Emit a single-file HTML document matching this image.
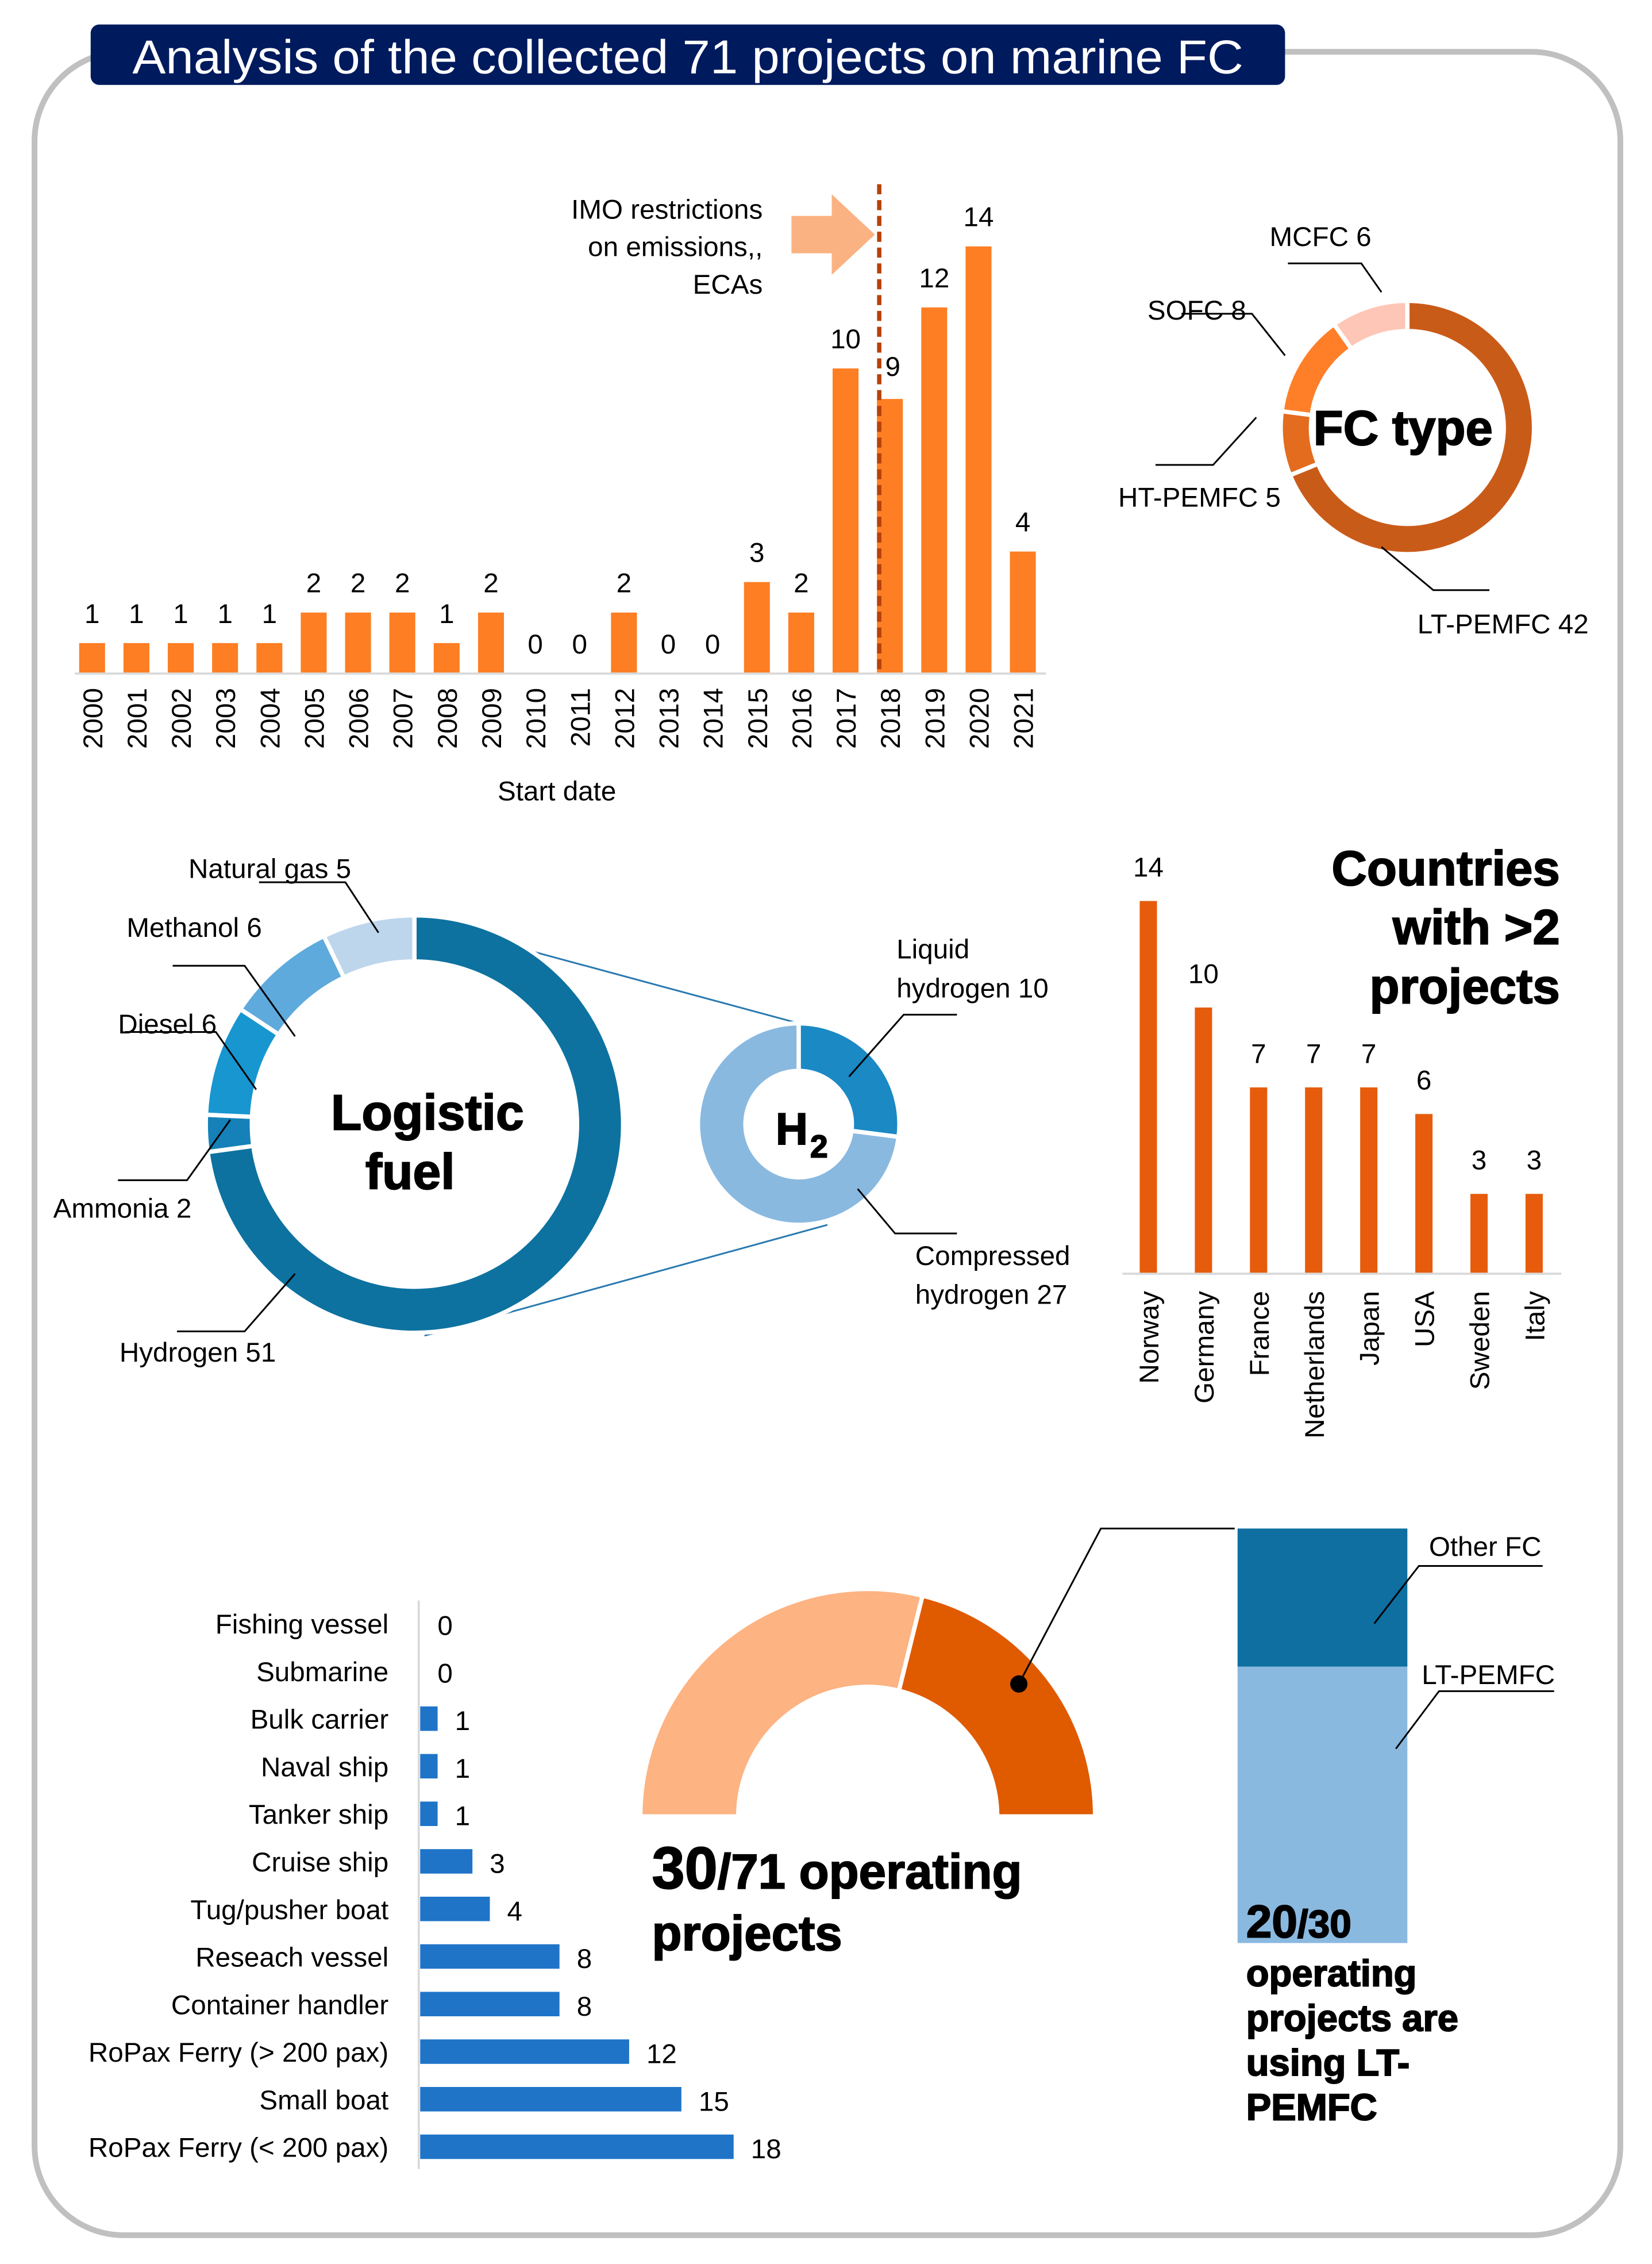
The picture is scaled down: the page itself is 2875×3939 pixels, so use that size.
<!DOCTYPE html>
<html><head><meta charset="utf-8"><style>
html,body{margin:0;padding:0;background:#fff;}
svg{display:block;font-family:"Liberation Sans",sans-serif;}
.t{font-family:"Liberation Sans",sans-serif;font-size:19px;fill:#000;}
.b{font-family:"Liberation Sans",sans-serif;font-weight:900;fill:#000;stroke:#000;stroke-width:0.8px;}
</style></head><body>
<svg id="s" width="2875" height="3939" viewBox="0 0 1148 1573" preserveAspectRatio="none" xmlns="http://www.w3.org/2000/svg">
<rect x="24" y="36" width="1102" height="1517" rx="62" fill="#fff" stroke="#c0c0c0" stroke-width="4"/>
<rect x="63" y="17" width="830" height="42" rx="6" fill="#001a5e"/>
<text x="478" y="51" text-anchor="middle" fill="#fff" font-size="33" textLength="772" lengthAdjust="spacingAndGlyphs">Analysis of the collected 71 projects on marine FC</text>
<g id="g1"></g>
<g id="g2"></g>
<g id="g3"></g>
<g id="g4"></g>
<g id="g5"></g>
<g id="g6"></g>
</svg>
<script>
const years=["2000","2001","2002","2003","2004","2005","2006","2007","2008","2009","2010","2011","2012","2013","2014","2015","2016","2017","2018","2019","2020","2021"];
const yearCounts=[1,1,1,1,1,2,2,2,1,2,0,0,2,0,0,3,2,10,9,12,14,4];
const fcTypes=["LT-PEMFC","HT-PEMFC","SOFC","MCFC"];
const fcCounts=[42,5,8,6];
const fuels=["Hydrogen","Ammonia","Diesel","Methanol","Natural gas"];
const fuelCounts=[51,2,6,6,5];
const h2Types=["Liquid hydrogen","Compressed hydrogen"];
const h2Counts=[10,27];
const countries=["Norway","Germany","France","Netherlands","Japan","USA","Sweden","Italy"];
const countryCounts=[14,10,7,7,7,6,3,3];
const ships=["Fishing vessel","Submarine","Bulk carrier","Naval ship","Tanker ship","Cruise ship","Tug/pusher boat","Reseach vessel","Container handler","RoPax Ferry (> 200 pax)","Small boat","RoPax Ferry (< 200 pax)"];
const shipCounts=[0,0,1,1,1,3,4,8,8,12,15,18];
const operating=[30,71];
const ltShare=[20,30];

const NS="http://www.w3.org/2000/svg";
function el(p,tag,attrs,txt){const e=document.createElementNS(NS,tag);for(const k in attrs)e.setAttribute(k,attrs[k]);if(txt!==undefined)e.textContent=txt;p.appendChild(e);return e;}
function arc(cx,cy,r0,r1,a0,a1){const p=(r,a)=>[cx+r*Math.sin(a),cy-r*Math.cos(a)];const L=(a1-a0)>Math.PI?1:0;const A=p(r1,a0),B=p(r1,a1),C=p(r0,a1),D=p(r0,a0);return `M${A}A${r1},${r1} 0 ${L} 1 ${B}L${C}A${r0},${r0} 0 ${L} 0 ${D}Z`;}

// chart 1
const g1=document.getElementById('g1');
const x1=i=>64+i*30.8, y1=v=>468-v*21.2;
el(g1,'path',{d:'M550,150h28v-15l30,28l-30,28v-15h-28z',fill:'#fbb282',});
['IMO restrictions','on emissions,,','ECAs'].forEach((t,i)=>{const e=el(g1,'text',{x:530,y:152+i*26,'text-anchor':'end',class:'t'},t);});
years.forEach((yr,i)=>{
 const b=el(g1,'rect',{x:x1(i)-9,y:y1(yearCounts[i]),width:18,height:468-y1(yearCounts[i]),fill:'#fd7e23'});
 
 
 const v=el(g1,'text',{x:x1(i)+(i==18?2:0),y:y1(yearCounts[i])-14+(i==18?-2:0),'text-anchor':'middle',class:'t'},yearCounts[i]);
 
 
 const l=el(g1,'text',{x:0,y:0,transform:`translate(${x1(i)+7},478) rotate(-90)`,'text-anchor':'end',class:'t'},yr);
 
 
});
el(g1,'line',{x1:52,x2:727,y1:468,y2:468,stroke:'#d9d9d9','stroke-width':1.5,});
el(g1,'line',{x1:611,x2:611,y1:128,y2:468,stroke:'#b5410c','stroke-width':3,'stroke-dasharray':'7,4',});
el(g1,'text',{x:387,y:556,'text-anchor':'middle',class:'t',},'Start date');

// chart 2
const g2=document.getElementById('g2');
const fcCol=['#c95b19','#e46c1f','#fe7f28','#fec6b6'];
let tot=fcCounts.reduce((a,b)=>a+b),acc=0;
fcCounts.forEach((v,i)=>{const a0=acc/tot*2*Math.PI;acc+=v;const a1=acc/tot*2*Math.PI;
 const s=el(g2,'path',{d:arc(978,297,67,88,a0,a1),fill:fcCol[i],stroke:'#fff','stroke-width':3});
 
 });
el(g2,'text',{x:975,y:309,'text-anchor':'middle',class:'b','font-size':34,},'FC type');
const fcL=[[985,440,'start',''],[890,352,'end',''],[866,222,'end',''],[953,171,'end','']];
const fcLines=['M960,380L996,410H1035','M873,290L843,323H803','M893,247L870,218H821','M960,203L946,183H895'];
fcL.forEach((p,i)=>{const e=el(g2,'text',{x:p[0],y:p[1],'text-anchor':p[2],class:'t'},fcTypes[i]+' '+fcCounts[i]);
 el(g2,'path',{d:fcLines[i],fill:'none',stroke:'#000','stroke-width':1.2});});

// chart 3
const g3=document.getElementById('g3');
const fuCol=['#0d72a0','#1581b8','#1896d0','#5eaadc','#bdd6ec'];
el(g3,'path',{d:'M355,657L555,711M295,928L575,851',stroke:'#2a7ab0','stroke-width':1.2,fill:'none',});
tot=fuelCounts.reduce((a,b)=>a+b);acc=0;
fuelCounts.forEach((v,i)=>{const a0=acc/tot*2*Math.PI;acc+=v;const a1=acc/tot*2*Math.PI;
 const s=el(g3,'path',{d:arc(288,781,113,145,a0,a1),fill:fuCol[i],stroke:'#fff','stroke-width':3});
 
 });
el(g3,'text',{x:297,y:785,'text-anchor':'middle',class:'b','font-size':35},'Logistic');
el(g3,'text',{x:285,y:826,'text-anchor':'middle',class:'b','font-size':35},'fuel');
const fuPos=[[83,946],[37,846],[82,718],[88,651],[131,610]];
const fuLines=['M205,885L170,925H123','M160,778L130,820H82','M178,757L150,717H87','M205,720L170,671H120','M263,648L240,613H180'];
fuPos.forEach((p,i)=>{const e=el(g3,'text',{x:p[0],y:p[1],class:'t'},fuels[i]+' '+fuelCounts[i]);
 el(g3,'path',{d:fuLines[i],fill:'none',stroke:'#000','stroke-width':1.2});});
const h2Col=['#1a89c4','#8ab9e0'];
tot=h2Counts.reduce((a,b)=>a+b);acc=0;
h2Counts.forEach((v,i)=>{const a0=acc/tot*2*Math.PI;acc+=v;const a1=acc/tot*2*Math.PI;
 const s=el(g3,'path',{d:arc(555,781,37,70,a0,a1),fill:h2Col[i],stroke:'#fff','stroke-width':3});
 
 });
el(g3,'text',{x:539,y:795,class:'b','font-size':31},'H');
el(g3,'text',{x:563,y:804,class:'b','font-size':22},'2');
[['Liquid',623,666],['hydrogen '+h2Counts[0],623,693],['Compressed',636,879],['hydrogen '+h2Counts[1],636,906]].forEach(p=>{el(g3,'text',{x:p[1],y:p[2],class:'t',},p[0]);});
el(g3,'path',{d:'M590,748L628,705H665M596,826L622,857H665',fill:'none',stroke:'#000','stroke-width':1.2});

// chart 4
const g4=document.getElementById('g4');
const x4=i=>798+i*38.3,y4=v=>885-v*18.5;
countries.forEach((c,i)=>{const v=countryCounts[i];
 const b=el(g4,'rect',{x:x4(i)-6,y:y4(v),width:12,height:885-y4(v),fill:'#e65c0c'});
 
 
 const t=el(g4,'text',{x:x4(i),y:y4(v)-17,'text-anchor':'middle',class:'t'},v);
 
 
 const l=el(g4,'text',{x:0,y:0,transform:`translate(${x4(i)+7},897) rotate(-90)`,'text-anchor':'end',class:'t'},c);
 
 });
el(g4,'line',{x1:780,x2:1085,y1:885,y2:885,stroke:'#d9d9d9','stroke-width':1.5});
['Countries','with >2','projects'].forEach((t,i)=>el(g4,'text',{x:1084,y:615+i*41,'text-anchor':'end',class:'b','font-size':34,},t));

// chart 5
const g5=document.getElementById('g5');
const y5=i=>1128+i*33.05,w5=v=>v*12.1;
ships.forEach((s,i)=>{const v=shipCounts[i];
 const b=el(g5,'rect',{x:292,y:y5(i)-8.5,width:w5(v),height:17,fill:'#1f74c8'});
 
 
 const t=el(g5,'text',{x:270,y:y5(i)+7,'text-anchor':'end',class:'t'},s);
 
 
 const n=el(g5,'text',{x:292+w5(v)+12,y:y5(i)+8,class:'t'},v);
 
 });
el(g5,'line',{x1:291,x2:291,y1:1112,y2:1507,stroke:'#d9d9d9','stroke-width':1.5});

// chart 6
const g6=document.getElementById('g6');
const f=1-operating[0]/operating[1];
const half=(a0,a1,col,nm)=>{const s=el(g6,'path',{d:arc(603,1262,90,158,a0,a1),fill:col,stroke:'#fff','stroke-width':3});};
half(-Math.PI/2,-Math.PI/2+f*Math.PI,'#fdb382','not-operating-arc');
half(-Math.PI/2+f*Math.PI,Math.PI/2,'#e05a00','operating-arc');
el(g6,'circle',{cx:708,cy:1170,r:6,fill:'#000'});
el(g6,'path',{d:'M708,1170L765,1062H858',fill:'none',stroke:'#000','stroke-width':1.2});
const t1=el(g6,'text',{x:453,y:1312,class:'b','font-size':34});
el(t1,'tspan',{'font-size':41},operating[0]);el(t1,'tspan',{},'/'+operating[1]+' operating');
el(g6,'text',{x:453,y:1355,class:'b','font-size':34},'projects');
const bh=288,by=1062,topH=bh*(1-ltShare[0]/ltShare[1]);
el(g6,'rect',{x:860,y:by,width:118,height:topH,fill:'#0e6fa0',});
el(g6,'rect',{x:860,y:by+topH,width:118,height:bh-topH,fill:'#8ab9e0',});
el(g6,'text',{x:993,y:1081,class:'t'},'Other FC');
el(g6,'text',{x:988,y:1170,class:'t'},'LT-PEMFC');
el(g6,'path',{d:'M955,1128L986,1088H1072M970,1215L1000,1175H1080',fill:'none',stroke:'#000','stroke-width':1.2});
const t2=el(g6,'text',{x:866,y:1346,class:'b','font-size':27});
el(t2,'tspan',{'font-size':32},ltShare[0]);el(t2,'tspan',{},'/'+ltShare[1]);
['operating','projects are','using LT-','PEMFC'].forEach((t,i)=>el(g6,'text',{x:866,y:1380+i*31,class:'b','font-size':26},t));
</script>
</body></html>
